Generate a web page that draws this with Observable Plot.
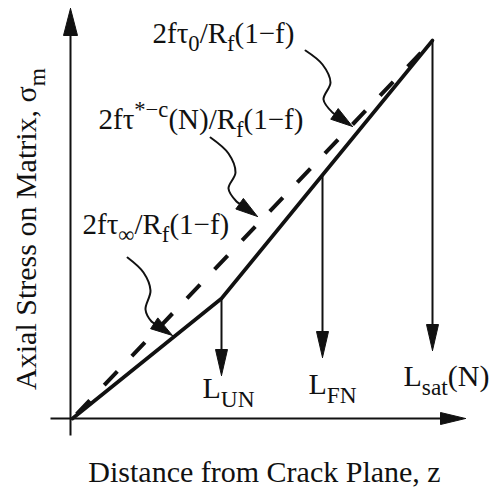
<!DOCTYPE html>
<html>
<head>
<meta charset="utf-8">
<script src="https://cdn.jsdelivr.net/npm/d3@7"></script>
<script src="https://cdn.jsdelivr.net/npm/@observablehq/plot@0.6"></script>
<style>
  html, body { margin: 0; padding: 0; background: #fff; }
  #chart svg { display: block; }
</style>
</head>
<body>
<div id="chart"></div>
<script>
// ---- Schematic values (arbitrary units: z = distance, s = matrix stress) ----
// Solid stress profile (bilinear: slope τ∞ up to L_UN, then steeper up to L_sat)
const solidZ = [0, 14.9, 36.0];
const solidS = [0, 12.0, 37.8];
// Dashed profile (slope τ0, straight from the crack plane to L_sat)
const dashedZ = [0, 36.0];
const dashedS = [0, 37.8];

// Characteristic lengths marked with downward arrows
const lengthNames = ["L_{UN}", "L_{FN}", "L_{sat}(N)"];
const lengthZ     = [14.9, 25.0, 36.0];
const lengthTipS  = [4.3, 6.1, 6.8];
const lengthLabelZ = [13.0, 23.6, 33.1];
const lengthLabelS = [2.1, 2.5, 3.3];

// Slope annotations and their curly leaders
const slopeLabels = ["2fτ_{0}/R_{f}(1−f)", "2fτ^{*−c}(N)/R_{f}(1−f)", "2fτ_{∞}/R_{f}(1−f)"];
const slopeLabelZ = [8.0, 2.6, 1.0];
const slopeLabelS = [37.6, 29.0, 18.5];
const leaderZ = [
  [23.3, 25.0, 25.8, 25.1, 26.0, 28.0],
  [13.8, 15.6, 16.3, 15.6, 16.4, 18.5],
  [5.5, 7.1, 7.8, 7.3, 7.9, 10.0]
];
const leaderS = [
  [36.8, 35.4, 33.6, 31.9, 30.6, 29.2],
  [28.1, 26.5, 24.6, 23.0, 21.7, 20.2],
  [16.1, 14.6, 12.8, 10.9, 9.7, 8.3]
];

// Axes (arrows, no ticks)
const xAxisZ = [-2.2, 39.3];   // along s = 0
const yAxisS = [-1.7, 41.0];   // along z = yAxisZ
const yAxisZ = -0.2;

const xTitle = "Distance from Crack Plane, z";
const yTitle = "Axial Stress on Matrix, σ_{m}";

// ---- helpers ----
const INK = "#111";
const pts = (zs, ss) => zs.map((z, i) => ({x: z, y: ss[i]}));
function interp(zs, ss, z) {
  for (let i = 1; i < zs.length; i++) {
    if (z <= zs[i]) return ss[i-1] + (z - zs[i-1]) * (ss[i] - ss[i-1]) / (zs[i] - zs[i-1]);
  }
  return ss[ss.length - 1];
}
// filled triangular arrowhead pointing from `from` to `tip` (x and y scales share 10 px/unit)
function head(id, tip, from, len, half) {
  const dx = tip[0] - from[0], dy = tip[1] - from[1], d = Math.hypot(dx, dy);
  const ux = dx / d, uy = dy / d, nx = -uy, ny = ux;
  const bx = tip[0] - len * ux, by = tip[1] - len * uy;
  return {
    base: [bx, by],
    poly: [[tip[0], tip[1]], [bx + half * nx, by + half * ny], [bx - half * nx, by - half * ny], [tip[0], tip[1]]]
      .map(([x, y]) => ({id, x, y}))
  };
}

const heads = [];
const leaders = [];
leaderZ.forEach((zs, k) => {
  const n = zs.length;
  const h = head("lead" + k, [zs[n-1], leaderS[k][n-1]], [zs[n-2], leaderS[k][n-2]], 2.2, 0.65);
  heads.push(...h.poly);
  zs.slice(0, n - 1).forEach((z, i) => leaders.push({id: k, x: z, y: leaderS[k][i]}));
  leaders.push({id: k, x: h.base[0], y: h.base[1]});
});

const shafts = [];
lengthZ.forEach((z, k) => {
  const top = interp(solidZ, solidS, z);
  shafts.push({id: k, x: z, y: top}, {id: k, x: z, y: lengthTipS[k] + 1});
  heads.push(...head("len" + k, [z, lengthTipS[k]], [z, top], 2.6, 0.6).poly);
});

// axes
const axes = [
  {id: "x", x: xAxisZ[0], y: 0}, {id: "x", x: xAxisZ[1] - 1, y: 0},
  {id: "y", x: yAxisZ, y: yAxisS[0]}, {id: "y", x: yAxisZ, y: yAxisS[1] - 1}
];
heads.push(...head("ax", [xAxisZ[1], 0], [xAxisZ[0], 0], 2.5, 0.6).poly);
heads.push(...head("ay", [yAxisZ, yAxisS[1]], [yAxisZ, yAxisS[0]], 2.7, 0.7).poly);

const lengthText = lengthNames.map((t, i) => ({t, x: lengthLabelZ[i], y: lengthLabelS[i]}));
const slopeText = slopeLabels.map((t, i) => ({t, x: slopeLabelZ[i], y: slopeLabelS[i]}));

const chart = Plot.plot({
  width: 494,
  height: 491,
  margin: 0,
  style: {fontFamily: "'Liberation Serif', 'DejaVu Serif', serif", background: "#fff", color: INK},
  x: {domain: [-7.2, 42.2], axis: null},
  y: {domain: [-7.3, 41.8], axis: null},
  marks: [
    Plot.line(axes, {x: "x", y: "y", z: "id", stroke: INK, strokeWidth: 2, strokeLinecap: "butt"}),
    Plot.line(pts(dashedZ, dashedS), {x: "x", y: "y", stroke: INK, strokeWidth: 4, strokeDasharray: "19,21", strokeDashoffset: -6, strokeLinecap: "butt"}),
    Plot.line(pts(solidZ, solidS), {x: "x", y: "y", stroke: INK, strokeWidth: 3.6, strokeLinejoin: "round"}),
    Plot.line(shafts, {x: "x", y: "y", z: "id", stroke: INK, strokeWidth: 2, strokeLinecap: "butt"}),
    Plot.line(leaders, {x: "x", y: "y", z: "id", stroke: INK, strokeWidth: 2, curve: "catmull-rom"}),
    Plot.line(heads, {x: "x", y: "y", z: "id", fill: INK, stroke: INK, strokeWidth: 1, strokeLinejoin: "miter", strokeMiterlimit: 10}),
    Plot.text(slopeText, {x: "x", y: "y", text: "t", textAnchor: "start", lineAnchor: "bottom", fontSize: 29, fill: INK}),
    Plot.text(lengthText, {x: "x", y: "y", text: "t", textAnchor: "start", lineAnchor: "bottom", fontSize: 30, fill: INK}),
    Plot.text([xTitle], {frameAnchor: "bottom", dx: 17, dy: -10, textAnchor: "middle", lineAnchor: "bottom", fontSize: 30, fill: INK}),
    Plot.text([yTitle], {frameAnchor: "left", rotate: -90, dx: 35, dy: -17, textAnchor: "middle", lineAnchor: "bottom", fontSize: 30, fill: INK})
  ]
});

// turn _{..} / ^{..} markup into real sub/superscript tspans
const NS = "http://www.w3.org/2000/svg";
chart.querySelectorAll("text").forEach(el => {
  const src = el.textContent;
  if (!/[_^]\{/.test(src)) return;
  const fs = parseFloat(el.parentNode.getAttribute("font-size")) || 30;
  const sub = 0.3 * fs, sup = 0.4 * fs, small = 0.78 * fs;
  el.textContent = "";
  let cur = 0;
  for (const m of src.matchAll(/([_^])\{([^}]*)\}|([^_^]+)/g)) {
    const t = document.createElementNS(NS, "tspan");
    let off = 0, size = fs;
    if (m[1] === "_") { off = sub; size = small; }
    else if (m[1] === "^") { off = -sup; size = small; }
    t.setAttribute("dy", (off - cur).toFixed(2));
    t.setAttribute("font-size", size.toFixed(2));
    t.textContent = m[1] ? m[2] : m[3];
    el.appendChild(t);
    cur = off;
  }
});

document.getElementById("chart").appendChild(chart);
</script>
</body>
</html>
